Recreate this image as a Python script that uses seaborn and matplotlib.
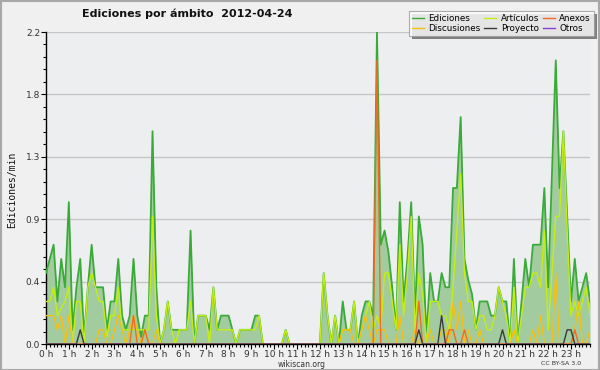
import numpy as np
import pandas as pd
import matplotlib
matplotlib.use("Agg")
import matplotlib.pyplot as plt
import seaborn as sns
from matplotlib.ticker import FixedLocator, MultipleLocator
from matplotlib.lines import Line2D
from matplotlib.patches import Rectangle

# time of day (hours), 10-minute bins
t = np.arange(144) / 6.0

ediciones = [
    0.5, 0.6, 0.7, 0.3, 0.6, 0.4, 1.0, 0.1, 0.4, 0.6, 0.05, 0.4, 0.7, 0.4, 0.4, 0.4, 0.1, 0.3, 0.3, 0.6,
    0.2, 0.1, 0.2, 0.6, 0.2, 0.05, 0.2, 0.2, 1.5, 0.4, 0.0, 0.1, 0.3, 0.1, 0.1, 0.1, 0.1, 0.1, 0.8, 0.0,
    0.2, 0.2, 0.2, 0.1, 0.4, 0.1, 0.2, 0.2, 0.2, 0.1, 0.0, 0.1, 0.1, 0.1, 0.1, 0.2, 0.2, 0.0, 0.0, 0.0,
    0.0, 0.0, 0.0, 0.1, 0.0, 0.0, 0.0, 0.0, 0.0, 0.0, 0.0, 0.0, 0.0, 0.5, 0.2, 0.0, 0.2, 0.0, 0.3, 0.1,
    0.1, 0.3, 0.0, 0.2, 0.3, 0.3, 0.2, 2.2, 0.7, 0.8, 0.65, 0.4, 0.1, 1.0, 0.3, 0.6, 1.0, 0.2, 0.9, 0.7,
    0.05, 0.5, 0.3, 0.3, 0.5, 0.4, 0.4, 1.1, 1.1, 1.6, 0.6, 0.45, 0.35, 0.1, 0.3, 0.3, 0.3, 0.2, 0.2, 0.4,
    0.3, 0.3, 0.0, 0.6, 0.0, 0.3, 0.6, 0.4, 0.7, 0.7, 0.7, 1.1, 0.4, 1.2, 2.0, 1.1, 1.5, 0.9, 0.3, 0.6,
    0.3, 0.4, 0.5, 0.3,
]
articulos = [
    0.3, 0.3, 0.4, 0.2, 0.25, 0.3, 0.4, 0.0, 0.3, 0.3, 0.0, 0.4, 0.5, 0.4, 0.3, 0.3, 0.05, 0.2, 0.2, 0.4,
    0.1, 0.1, 0.1, 0.1, 0.1, 0.1, 0.1, 0.1, 0.9, 0.2, 0.0, 0.1, 0.3, 0.1, 0.0, 0.1, 0.1, 0.1, 0.3, 0.0,
    0.2, 0.2, 0.2, 0.0, 0.4, 0.1, 0.1, 0.1, 0.1, 0.1, 0.0, 0.1, 0.1, 0.1, 0.1, 0.1, 0.2, 0.0, 0.0, 0.0,
    0.0, 0.0, 0.0, 0.1, 0.0, 0.0, 0.0, 0.0, 0.0, 0.0, 0.0, 0.0, 0.0, 0.5, 0.2, 0.0, 0.2, 0.0, 0.1, 0.1,
    0.1, 0.3, 0.0, 0.1, 0.2, 0.3, 0.1, 0.2, 0.1, 0.5, 0.5, 0.3, 0.1, 0.7, 0.2, 0.5, 0.9, 0.1, 0.5, 0.35,
    0.0, 0.3, 0.3, 0.3, 0.2, 0.2, 0.1, 0.4, 0.8, 1.2, 0.5, 0.3, 0.3, 0.1, 0.2, 0.2, 0.1, 0.1, 0.2, 0.4,
    0.3, 0.2, 0.0, 0.4, 0.0, 0.2, 0.4, 0.4, 0.5, 0.5, 0.4, 0.8, 0.1, 0.5, 0.9, 0.9, 1.5, 0.8, 0.2, 0.3,
    0.2, 0.3, 0.4, 0.2,
]
discusiones = [
    0.2, 0.2, 0.2, 0.1, 0.2, 0.0, 0.2, 0.0, 0.0, 0.0, 0.0, 0.0, 0.0, 0.0, 0.1, 0.1, 0.0, 0.0, 0.1, 0.2,
    0.1, 0.0, 0.1, 0.2, 0.1, 0.0, 0.1, 0.0, 0.0, 0.1, 0.0, 0.0, 0.0, 0.0, 0.0, 0.0, 0.0, 0.0, 0.0, 0.0,
    0.0, 0.0, 0.0, 0.0, 0.0, 0.0, 0.0, 0.0, 0.0, 0.0, 0.0, 0.0, 0.0, 0.0, 0.0, 0.0, 0.0, 0.0, 0.0, 0.0,
    0.0, 0.0, 0.0, 0.0, 0.0, 0.0, 0.0, 0.0, 0.0, 0.0, 0.0, 0.0, 0.0, 0.0, 0.0, 0.0, 0.0, 0.0, 0.1, 0.1,
    0.1, 0.0, 0.0, 0.1, 0.2, 0.1, 0.0, 0.1, 0.1, 0.1, 0.0, 0.0, 0.0, 0.2, 0.0, 0.0, 0.0, 0.1, 0.0, 0.0,
    0.0, 0.1, 0.0, 0.0, 0.1, 0.1, 0.0, 0.3, 0.1, 0.3, 0.0, 0.1, 0.0, 0.0, 0.1, 0.0, 0.0, 0.0, 0.0, 0.0,
    0.0, 0.0, 0.0, 0.1, 0.0, 0.0, 0.0, 0.0, 0.1, 0.0, 0.2, 0.0, 0.0, 0.0, 0.5, 0.0, 0.0, 0.0, 0.0, 0.1,
    0.3, 0.0, 0.0, 0.1,
]
anexos = [0.0] * 144
for _i, _v in [(23, 0.2), (26, 0.1), (87, 2.0), (98, 0.3), (106, 0.1), (107, 0.1), (110, 0.1), (139, 0.1)]:
    anexos[_i] = _v
proyecto = [0.0] * 144
for _i, _v in [(9, 0.1), (98, 0.1), (104, 0.2), (120, 0.1), (137, 0.1), (138, 0.1)]:
    proyecto[_i] = _v
otros = [0.0] * 144

hour_labels = [f"{h} h" for h in range(24)]
y_ticks = [0.0, 0.44, 0.88, 1.32, 1.76, 2.2]
y_labels = ["0.0", "0.4", "0.9", "1.3", "1.8", "2.2"]

series = [
    ("Ediciones", ediciones, "#3aaa38", 1.3),
    ("Artículos", articulos, "#c4ee10", 1.0),
    ("Discusiones", discusiones, "#f5c010", 1.0),
    ("Anexos", anexos, "#f26a22", 1.0),
    ("Proyecto", proyecto, "#3a3a3a", 1.0),
    ("Otros", otros, "#8a3ee0", 1.0),
]

fig = plt.figure(figsize=(6.0, 3.7), dpi=100, facecolor="#f0f0f0")
ax = fig.add_axes([46 / 600, 26 / 370, 544 / 600, 312 / 370])
ax.set_facecolor("#eceef0")

ax.fill_between(t, ediciones, 0, color="#a2cc9f", lw=0, zorder=1)
for name, vals, col, lw in series:
    df = pd.DataFrame({"t": t, "v": vals})
    sns.lineplot(data=df, x="t", y="v", ax=ax, color=col, linewidth=lw, zorder=3)

ax.set_xlim(0, t[-1])
ax.set_ylim(0, 2.2)
ax.xaxis.set_major_locator(FixedLocator(list(range(24))))
ax.set_xticklabels(hour_labels)
ax.xaxis.set_minor_locator(MultipleLocator(1 / 6))
ax.yaxis.set_major_locator(FixedLocator(y_ticks))
ax.set_yticklabels(y_labels)
ax.yaxis.set_minor_locator(MultipleLocator(0.088))
ax.tick_params(axis="both", which="major", length=3.5, width=0.8, labelsize=6.5,
               labelcolor="#333333", pad=0.8, direction="out")
ax.tick_params(axis="both", which="minor", length=2.5, width=0.8, direction="out")
ax.set_xlabel("")
ax.set_ylabel("")
ax.set_axisbelow(True)
ax.grid(axis="y", which="major", color="#c6c6c6", lw=1.0)
ax.grid(axis="x", visible=False)
for s in ["top", "right"]:
    ax.spines[s].set_visible(False)
for s in ["left", "bottom"]:
    ax.spines[s].set_color("black")
    ax.spines[s].set_linewidth(1.0)

fig.text(0.312, 0.962, "Ediciones por ámbito  2012-04-24", ha="center", va="center",
         fontsize=8, fontweight="bold", color="#111111")
fig.text(0.02, 0.488, "Ediciones/min", rotation=90, ha="center", va="center",
         fontsize=7, family="DejaVu Sans Mono", color="#111111")
fig.text(0.503, 0.016, "wikiscan.org", ha="center", va="center", fontsize=5.5, color="#333333")
fig.text(0.935, 0.018, "CC BY-SA 3.0", ha="center", va="center", fontsize=4.5, color="#333333")

handles = [Line2D([], [], color=c, lw=1.0) for _, _, c, _ in series]
labels = [n for n, _, _, _ in series]
order = [0, 2, 1, 4, 3, 5]
leg = fig.legend([handles[k] for k in order], [labels[k] for k in order], ncol=3,
                 loc="upper right", bbox_to_anchor=(594 / 600, 1 - 11 / 370),
                 fontsize=6.3, frameon=True, fancybox=False, shadow=False,
                 handlelength=1.4, handletextpad=0.5, columnspacing=0.4,
                 labelspacing=0.1, borderpad=0.35, borderaxespad=0.0)
leg.get_frame().set_facecolor("white")
leg.get_frame().set_edgecolor("#999999")
leg.get_frame().set_linewidth(0.8)

# shadow behind legend
fig.canvas.draw()
bb = leg.get_window_extent().transformed(fig.transFigure.inverted())
fig.patches.append(Rectangle((bb.x0 + 3 / 600, bb.y0 - 3 / 370), bb.width, bb.height,
                             transform=fig.transFigure, facecolor="#808080",
                             edgecolor="none", zorder=0))
leg.set_zorder(5)

fig.patches.append(Rectangle((0.001, 0.001), 0.998, 0.997, transform=fig.transFigure,
                             fill=False, edgecolor="#a8a8a8", lw=1.5, zorder=10))

fig.savefig("out.png", dpi=100, facecolor=fig.get_facecolor())
